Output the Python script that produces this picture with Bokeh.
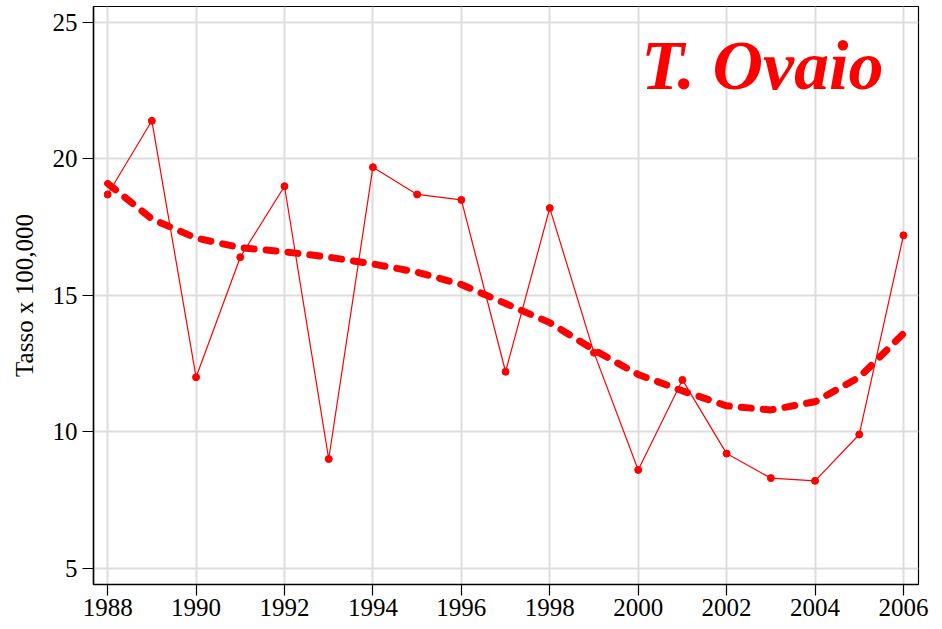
from bokeh.plotting import figure
from bokeh.models import Range1d, FixedTicker, Label
from bokeh.embed import file_html
from bokeh.resources import INLINE

years = list(range(1988, 2007))
rate = [18.7, 21.4, 12.0, 16.4, 19.0, 9.0, 19.7, 18.7, 18.5, 12.2,
        18.2, 12.9, 8.6, 11.9, 9.2, 8.3, 8.2, 9.9, 17.2]
smooth = [19.1, 17.8, 17.1, 16.75, 16.6, 16.4, 16.15, 15.85, 15.4, 14.7,
          14.0, 13.0, 12.1, 11.5, 10.95, 10.8, 11.1, 12.0, 13.6]
x_ticks = list(range(1988, 2007, 2))
y_ticks = [5, 10, 15, 20, 25]
title_text = "T. Ovaio"
y_label = "Tasso x 100,000"

FONT = "Liberation Serif"

p = figure(frame_width=825, frame_height=578,
           min_border_left=93, min_border_right=16, min_border_top=6, min_border_bottom=37,
           x_range=Range1d(1987.68, 2006.34), y_range=Range1d(4.40, 25.59),
           output_backend="svg", toolbar_location=None)

p.outline_line_color = "black"
p.outline_line_width = 1.2

for ax in (p.xaxis[0], p.yaxis[0]):
    ax.major_label_text_font = FONT
    ax.major_label_text_font_size = "25px"
    ax.major_label_text_color = "black"
    ax.axis_line_color = "black"
    ax.axis_line_width = 1.5
    ax.major_tick_line_color = "black"
    ax.major_tick_line_width = 1.2
    ax.major_tick_out = 11
    ax.major_tick_in = 0
    ax.minor_tick_line_color = None

p.xaxis.ticker = FixedTicker(ticks=x_ticks)
p.yaxis.ticker = FixedTicker(ticks=y_ticks)
p.xaxis.major_label_standoff = 3
p.yaxis.major_label_standoff = 5
p.yaxis.axis_label = y_label
p.yaxis.axis_label_text_font = FONT
p.yaxis.axis_label_text_font_style = "normal"
p.yaxis.axis_label_text_font_size = "25px"
p.yaxis.axis_label_text_color = "black"
p.yaxis.axis_label_standoff = 12

p.xgrid.ticker = FixedTicker(ticks=x_ticks)
p.ygrid.ticker = FixedTicker(ticks=y_ticks)
p.grid.grid_line_color = "#dddddd"
p.grid.grid_line_width = 2

p.line(years, smooth, line_color="red", line_width=7, line_dash="10 12", line_cap="round")
p.line(years, rate, line_color="red", line_width=1.2)
p.scatter(years, rate, size=7, fill_color="red", line_color="red")

p.add_layout(Label(x=2005.55, y=23.43, text=title_text, text_align="right",
                   text_baseline="alphabetic", text_font=FONT, text_font_size="70px",
                   text_font_style="bold italic", text_color="red"))

open("out.html", "w").write(file_html(p, INLINE))
